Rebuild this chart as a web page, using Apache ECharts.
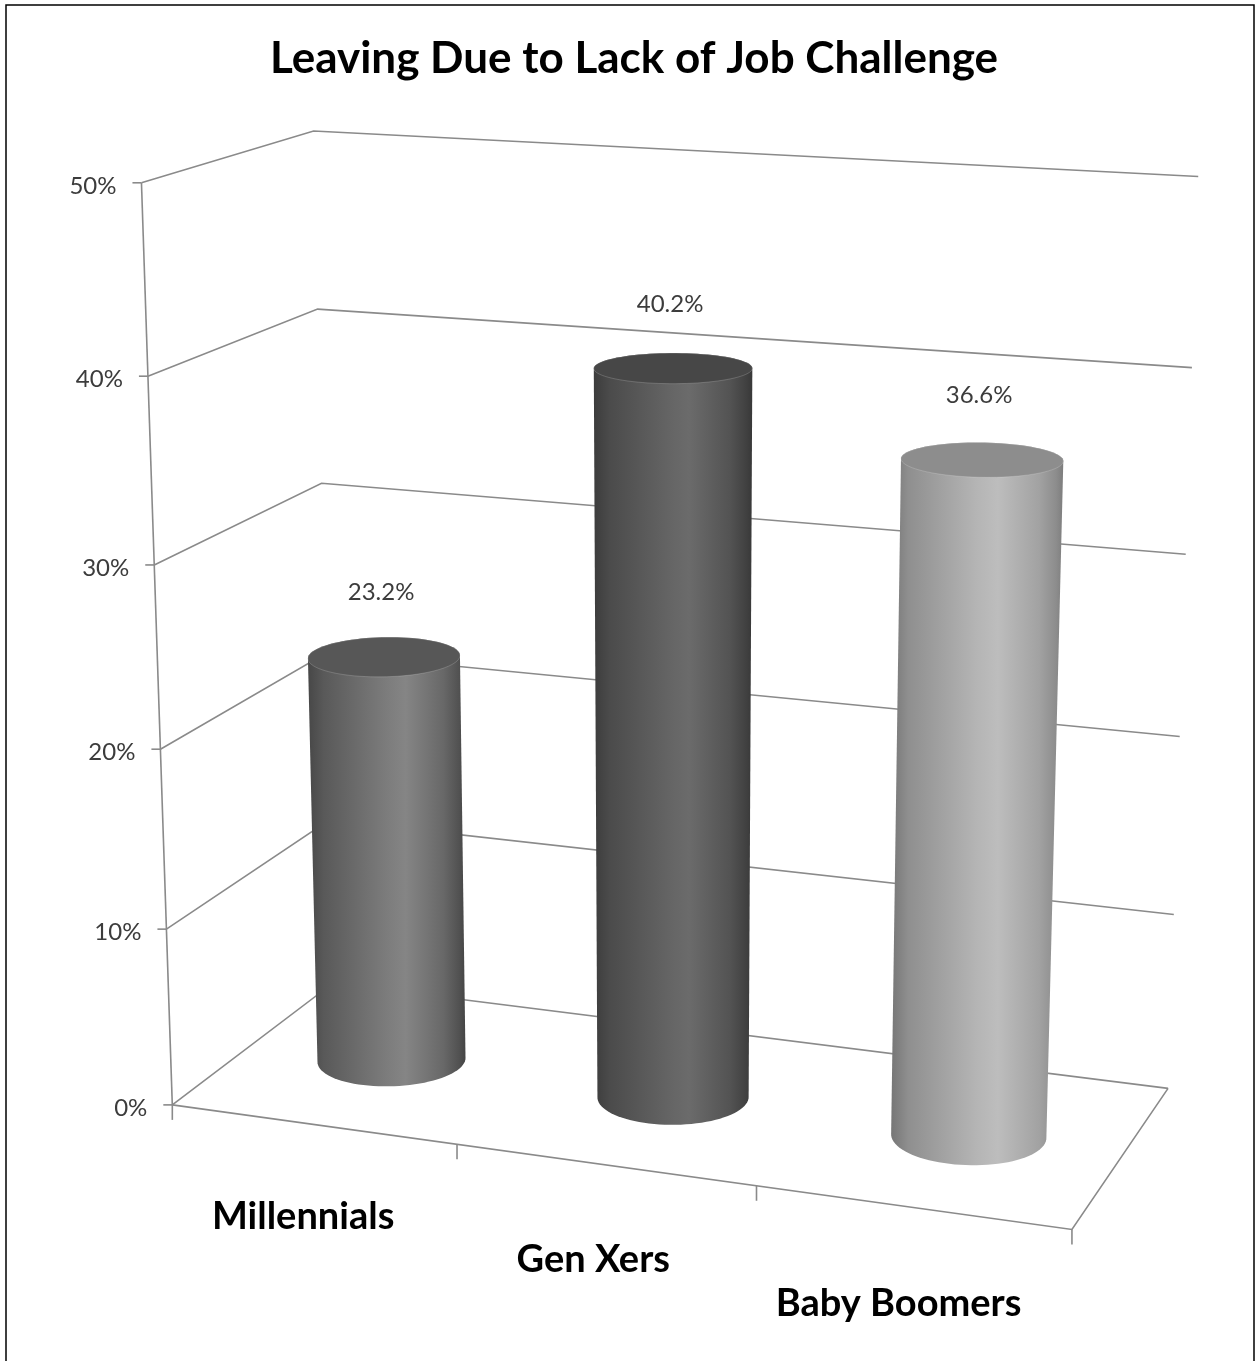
<!DOCTYPE html>
<html>
<head>
<meta charset="utf-8">
<title>Leaving Due to Lack of Job Challenge</title>
<script src="https://cdn.jsdelivr.net/npm/echarts@6/dist/echarts.min.js"></script>
<style>
  html, body { margin: 0; padding: 0; background: #fff; }
  #chart { width: 1257px; height: 1361px; }
</style>
</head>
<body>
<div id="chart"></div>
<script>
// ---- data ----
const categories = ['Millennials', 'Gen Xers', 'Baby Boomers'];
const shareLeaving = [23.2, 40.2, 36.6];
const valueTicks = [0, 10, 20, 30, 40, 50];
const tickLabels = ['0%', '10%', '20%', '30%', '40%', '50%'];

// ---- styles ----
const FONT = 'Lato, "Open Sans", "Liberation Sans", sans-serif';
const GRID_COLOR = '#8a8a8a';
const bodyStops = [
  [[0, '#474747'], [0.1, '#595959'], [0.5, '#7c7c7c'], [0.62, '#858585'], [0.86, '#686868'], [0.96, '#515151'], [1, '#444444']],
  [[0, '#3c3c3c'], [0.1, '#4b4b4b'], [0.5, '#666666'], [0.6, '#6b6b6b'], [0.86, '#535353'], [0.96, '#414141'], [1, '#383838']],
  [[0, '#767676'], [0.1, '#8f8f8f'], [0.5, '#b5b5b5'], [0.62, '#bdbdbd'], [0.86, '#a2a2a2'], [0.96, '#8c8c8c'], [1, '#7d7d7d']]
];
const topColors = ['#575757', '#474747', '#8d8d8d'];

// ---- perspective view of the plot box ----
// Box space: u = along categories (0..1), t = value fraction (0..1), w = depth (0 front .. 1 back).
// Anchors: where box edges sit on the page.
const boxAnchors = [
  [0, 0, 0, 172.7, 1105], [0, 0.2, 0, 166.5, 928], [0, 0.4, 0, 160, 749], [0, 0.6, 0, 155, 565],
  [0, 0.8, 0, 147.3, 376], [0, 1, 0, 141.7, 182.7],
  [0, 1, 1, 313, 131], [0, 0.8, 1, 317.5, 310], [0, 0.6, 1, 321.7, 483],
  [1, 1, 1, 1198, 177], [1, 0.8, 1, 1192, 368], [1, 0.6, 1, 1187, 553],
  [1, 0.4, 1, 1180, 737], [1, 0.2, 1, 1173, 913], [1, 0, 1, 1168, 1089],
  [1, 0, 0, 1071, 1229], [1 / 3, 0, 0, 457, 1145], [2 / 3, 0, 0, 757, 1187]
];

function solveLinear(M, v) {
  const n = v.length;
  const A = M.map((r, i) => r.concat([v[i]]));
  for (let c = 0; c < n; c++) {
    let p = c;
    for (let r = c + 1; r < n; r++) if (Math.abs(A[r][c]) > Math.abs(A[p][c])) p = r;
    const tmp = A[c]; A[c] = A[p]; A[p] = tmp;
    for (let r = 0; r < n; r++) {
      if (r === c) continue;
      const f = A[r][c] / A[c][c];
      for (let k = c; k <= n; k++) A[r][k] -= f * A[c][k];
    }
  }
  return A.map((r, i) => r[n] / r[i]);
}

const S = 1 / 1000;
function fitCamera(pts) {
  const rows = [], rhs = [];
  pts.forEach(([X, Y, Z, px, py]) => {
    const x = px * S, y = py * S;
    rows.push([X, Y, Z, 1, 0, 0, 0, 0, -x * X, -x * Y, -x * Z]); rhs.push(x);
    rows.push([0, 0, 0, 0, X, Y, Z, 1, -y * X, -y * Y, -y * Z]); rhs.push(y);
  });
  const n = 11;
  const N = [], g = [];
  for (let i = 0; i < n; i++) {
    N.push(new Array(n).fill(0)); g.push(0);
  }
  rows.forEach((r, k) => {
    for (let i = 0; i < n; i++) {
      g[i] += r[i] * rhs[k];
      for (let j = 0; j < n; j++) N[i][j] += r[i] * r[j];
    }
  });
  return solveLinear(N, g);
}
const cam = fitCamera(boxAnchors);
function proj(u, t, w) {
  const d = cam[8] * u + cam[9] * t + cam[10] * w + 1;
  return [
    (cam[0] * u + cam[1] * t + cam[2] * w + cam[3]) / d / S,
    (cam[4] * u + cam[5] * t + cam[6] * w + cam[7]) / d / S
  ];
}

function hull(pts) {
  const P = pts.slice().sort((a, b) => a[0] - b[0] || a[1] - b[1]);
  const cross = (o, a, b) => (a[0] - o[0]) * (b[1] - o[1]) - (a[1] - o[1]) * (b[0] - o[0]);
  const lower = [], upper = [];
  for (const p of P) {
    while (lower.length >= 2 && cross(lower[lower.length - 2], lower[lower.length - 1], p) <= 0) lower.pop();
    lower.push(p);
  }
  for (let i = P.length - 1; i >= 0; i--) {
    const p = P[i];
    while (upper.length >= 2 && cross(upper[upper.length - 2], upper[upper.length - 1], p) <= 0) upper.pop();
    upper.push(p);
  }
  lower.pop(); upper.pop();
  return lower.concat(upper);
}

// convert a point of the cartesian grid into box space
function toBox(params, api, cat, val) {
  const cs = params.coordSys;
  const p = api.coord([cat, val]);
  return {
    u: (p[0] - cs.x) / cs.width,
    t: (cs.y + cs.height - p[1]) / cs.height,
    band: api.size([1, 0])[0] / cs.width
  };
}

const lineStyle = { stroke: GRID_COLOR, lineWidth: 1.6, fill: null };

// back wall + side wall gridlines, value ticks and labels
function renderWalls(params, api) {
  const idx = params.dataIndex;
  const b = toBox(params, api, 0, api.value(1));
  const a = proj(0, b.t, 0), m = proj(0, b.t, 1), c = proj(1, b.t, 1);
  return {
    type: 'group',
    children: [
      { type: 'polyline', shape: { points: [a, m, c] }, style: lineStyle },
      { type: 'line', shape: { x1: a[0] - 9, y1: a[1], x2: a[0], y2: a[1] }, style: lineStyle },
      {
        type: 'text', x: a[0] - 25, y: a[1] + 3,
        style: {
          text: tickLabels[idx], align: 'right', verticalAlign: 'middle',
          fontFamily: FONT, fontSize: 24, fill: '#3c3c3c'
        }
      }
    ]
  };
}

// floor edges, value axis line, category ticks and labels
function renderFrame(params, api) {
  const i = api.value(0);
  const b = toBox(params, api, i, 0);
  const uLeft = b.u - b.band / 2;
  const children = [];
  const tickAt = (u) => {
    const p = proj(u, 0, 0);
    children.push({ type: 'line', shape: { x1: p[0], y1: p[1], x2: p[0], y2: p[1] + 15 }, style: lineStyle });
  };
  if (i === 0) {
    children.push({ type: 'polyline', shape: { points: [proj(0, 0, 0), proj(1, 0, 0), proj(1, 0, 1)] }, style: lineStyle });
    children.push({ type: 'line', shape: { x1: proj(0, 0, 0)[0], y1: proj(0, 0, 0)[1], x2: proj(0, 1, 0)[0], y2: proj(0, 1, 0)[1] }, style: lineStyle });
  }
  tickAt(uLeft);
  if (i === categories.length - 1) tickAt(uLeft + b.band);
  // label hangs below the front edge, in the box's own vertical direction
  const f = proj(b.u, -0.106, 0);
  children.push({
    type: 'text', x: f[0] - 12, y: f[1],
    style: {
      text: categories[i], align: 'center', verticalAlign: 'middle',
      fontFamily: FONT, fontWeight: 'bold', fontSize: 38, fill: '#000'
    }
  });
  return { type: 'group', children };
}

// cylinders with value labels
function renderCylinders(params, api) {
  const i = api.value(0);
  const val = api.value(1);
  const b = toBox(params, api, i, val);
  const ru = b.band * 0.246, rw = 0.2, wc = 0.5;
  const N = 90, top = [], bot = [];
  for (let k = 0; k < N; k++) {
    const th = (2 * Math.PI * k) / N;
    const u = b.u + ru * Math.cos(th), w = wc + rw * Math.sin(th);
    top.push(proj(u, b.t, w));
    bot.push(proj(u, 0, w));
  }
  const body = hull(top.concat(bot));
  const c = proj(b.u, b.t, wc);
  return {
    type: 'group',
    children: [
      {
        type: 'polygon', shape: { points: body },
        style: {
          fill: new echarts.graphic.LinearGradient(0, 0, 1, 0,
            bodyStops[i].map(s => ({ offset: s[0], color: s[1] })))
        }
      },
      {
        type: 'polygon', shape: { points: top },
        style: { fill: topColors[i], stroke: 'rgba(255,255,255,0.18)', lineWidth: 1 }
      },
      {
        type: 'text', x: c[0] - 3, y: c[1] - 64,
        style: {
          text: val.toFixed(1) + '%', align: 'center', verticalAlign: 'middle',
          fontFamily: FONT, fontSize: 24, fill: '#3c3c3c'
        }
      }
    ]
  };
}

const chart = echarts.init(document.getElementById('chart'), null, { renderer: 'canvas' });
chart.setOption({
  animation: false,
  backgroundColor: '#ffffff',
  grid: { left: 100, top: 100, width: 1000, height: 1000, show: false },
  xAxis: { type: 'category', data: categories, show: false },
  yAxis: { type: 'value', min: 0, max: 50, interval: 10, show: false },
  graphic: [
    {
      type: 'rect', shape: { x: 6, y: 5, width: 1248, height: 1400 },
      style: { fill: null, stroke: '#000', lineWidth: 1.5 }, silent: true
    },
    {
      type: 'text', x: 634, y: 59,
      style: {
        text: 'Leaving Due to Lack of Job Challenge', align: 'center', verticalAlign: 'middle',
        fontFamily: FONT, fontWeight: 'bold', fontSize: 44, fill: '#000'
      }
    }
  ],
  series: [
    {
      type: 'custom', name: 'walls', clip: false, silent: true, z: 1,
      data: valueTicks.map(v => [0, v]),
      renderItem: renderWalls
    },
    {
      type: 'custom', name: 'frame', clip: false, silent: true, z: 2,
      data: categories.map((c, i) => [i, 0]),
      renderItem: renderFrame
    },
    {
      type: 'custom', name: 'Leaving Due to Lack of Job Challenge', clip: false, silent: true, z: 3,
      data: shareLeaving.map((v, i) => [i, v]),
      renderItem: renderCylinders
    }
  ]
});
</script>
</body>
</html>
